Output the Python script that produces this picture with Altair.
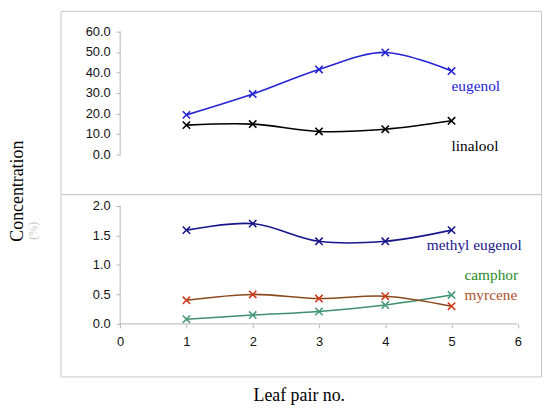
import altair as alt
import pandas as pd

# ---- data ----
leaf = [1, 2, 3, 4, 5]
eugenol = [19.3, 29.5, 41.5, 49.8, 40.7]
linalool = [14.3, 14.8, 11.2, 12.3, 16.4]
methyl_eugenol = [1.59, 1.70, 1.40, 1.40, 1.59]
camphor = [0.08, 0.15, 0.21, 0.32, 0.49]
myrcene = [0.40, 0.50, 0.43, 0.47, 0.30]

top_y_ticks = [0, 10, 20, 30, 40, 50, 60]
bottom_y_ticks = [0, 0.5, 1.0, 1.5, 2.0]
x_ticks = [0, 1, 2, 3, 4, 5, 6]

y_title = "Concentration"
y_title_unit = "(%)"
x_title = "Leaf pair no."

# ---- layout ----
W = 485
H_TOP = 185
H_BOT = 184
X_DOM = [-0.9, 6.35]
TOP_DOM = [-19.4, 70.1]
BOT_DOM = [-0.89, 2.2]

y_axis_offset = -(0 - X_DOM[0]) / (X_DOM[1] - X_DOM[0]) * W
x_axis_offset = -(0 - BOT_DOM[0]) / (BOT_DOM[1] - BOT_DOM[0]) * H_BOT

xs = alt.Scale(domain=X_DOM, nice=False, zero=False)
ys_top = alt.Scale(domain=TOP_DOM, nice=False, zero=False)
ys_bot = alt.Scale(domain=BOT_DOM, nice=False, zero=False)

XPATH = "M-1,-1L1,1M-1,1L1,-1"
AX_GRAY = "#b4b4b4"
SANS = "Liberation Sans"
SERIF = "Liberation Serif"

y_axis_common = dict(
    title=None, grid=False, domain=False, offset=y_axis_offset,
    tickColor=AX_GRAY, tickSize=4, labelFont=SANS, labelFontSize=13,
    labelColor="#111111", labelPadding=6,
)
top_y_axis = alt.Axis(values=top_y_ticks, format=".1f", **y_axis_common)
bot_y_axis = alt.Axis(values=bottom_y_ticks, format=".1f", **y_axis_common)
bot_x_axis = alt.Axis(values=x_ticks, format="d", title=None, grid=False, domain=False,
                      offset=x_axis_offset, tickColor=AX_GRAY, tickSize=4,
                      labelFont=SANS, labelFontSize=13, labelColor="#111111",
                      labelPadding=8)


def make_df(series):
    rows = []
    for name, vals in series:
        for lx, v in zip(leaf, vals):
            rows.append({"series": name, "leaf": lx, "value": v})
    return pd.DataFrame(rows)


top_df = make_df([("eugenol", eugenol), ("linalool", linalool)])
bot_df = make_df([("methyl eugenol", methyl_eugenol), ("camphor", camphor), ("myrcene", myrcene)])


def series_layers(df, name, ys, xaxis, yaxis, line_c, mark_c, label_c, dx, dy):
    base = alt.Chart(df).transform_filter(alt.datum.series == name)
    enc = dict(
        x=alt.X("leaf:Q", scale=xs, axis=xaxis),
        y=alt.Y("value:Q", scale=ys, axis=yaxis),
    )
    line = base.mark_line(interpolate="catmull-rom", strokeWidth=1.6, color=line_c).encode(**enc)
    pts = base.mark_point(shape=XPATH, filled=False, size=55, strokeWidth=1.6,
                          color=mark_c, opacity=1).encode(**enc)
    lbl = base.transform_filter(alt.datum.leaf == 5).mark_text(
        align="left", baseline="middle", dx=dx, dy=dy, font=SERIF, fontSize=15.5,
        color=label_c).encode(text="series:N", **enc)
    return [line, pts, lbl]


# ---- top panel ----
top_axis_df = pd.DataFrame({"x0": [0], "y0": [top_y_ticks[0]], "y1": [top_y_ticks[-1]]})
top_axis = alt.Chart(top_axis_df).mark_rule(color=AX_GRAY, strokeWidth=1).encode(
    x=alt.X("x0:Q", scale=xs, axis=None),
    y=alt.Y("y0:Q", scale=ys_top, axis=top_y_axis),
    y2="y1:Q",
)
ytitle = alt.Chart(pd.DataFrame({"t": [y_title]})).mark_text(
    angle=270, font=SERIF, fontSize=18, baseline="middle", align="center", color="#000000"
).encode(x=alt.value(-43), y=alt.value(182), text="t:N")
yunit = alt.Chart(pd.DataFrame({"t": [y_title_unit]})).mark_text(
    angle=270, font=SERIF, fontSize=12, baseline="middle", align="center", color="#c8c8c8"
).encode(x=alt.value(-28), y=alt.value(222), text="t:N")

top_layers = [top_axis, ytitle, yunit]
top_layers += series_layers(top_df, "eugenol", ys_top, None, top_y_axis,
                            "#2424d4", "#2424d4", "#2424d4", 0, 15)
top_layers += series_layers(top_df, "linalool", ys_top, None, top_y_axis,
                            "#000000", "#000000", "#000000", 0, 25)
top = alt.layer(*top_layers).properties(width=W, height=H_TOP)

# ---- bottom panel ----
bot_yaxis_df = pd.DataFrame({"x0": [0], "y0": [bottom_y_ticks[0]], "y1": [bottom_y_ticks[-1]]})
bot_yaxis = alt.Chart(bot_yaxis_df).mark_rule(color=AX_GRAY, strokeWidth=1).encode(
    x=alt.X("x0:Q", scale=xs, axis=bot_x_axis),
    y=alt.Y("y0:Q", scale=ys_bot, axis=bot_y_axis),
    y2="y1:Q",
)
bot_xaxis_df = pd.DataFrame({"a": [x_ticks[0]], "b": [x_ticks[-1]], "c": [0]})
bot_xaxis = alt.Chart(bot_xaxis_df).mark_rule(color=AX_GRAY, strokeWidth=1).encode(
    x=alt.X("a:Q", scale=xs, axis=bot_x_axis),
    x2="b:Q",
    y=alt.Y("c:Q", scale=ys_bot, axis=bot_y_axis),
)

bot_layers = [bot_yaxis, bot_xaxis]
bot_layers += series_layers(bot_df, "methyl eugenol", ys_bot, bot_x_axis, bot_y_axis,
                            "#16168a", "#16168a", "#16168a", -25, 15)
bot_layers += series_layers(bot_df, "camphor", ys_bot, bot_x_axis, bot_y_axis,
                            "#3f9070", "#4a9a7c", "#2a8a2a", 13, -20)
bot_layers += series_layers(bot_df, "myrcene", ys_bot, bot_x_axis, bot_y_axis,
                            "#8a4a1c", "#d03a1a", "#b0522d", 13, -11)
xtitle = alt.Chart(pd.DataFrame({"t": [x_title]})).mark_text(
    font=SERIF, fontSize=18, baseline="middle", align="center", color="#000000"
).encode(x=alt.value(241), y=alt.value(204), text="t:N")
bot_layers += [xtitle]
bottom = alt.layer(*bot_layers).properties(width=W, height=H_BOT)

chart = alt.vconcat(top, bottom, spacing=0, bounds="flush").properties(
    padding=0, background="white"
).configure_view(stroke="#c8c8c8", strokeWidth=1)

chart.save("out.html", embed_options={"renderer": "svg", "actions": False})
